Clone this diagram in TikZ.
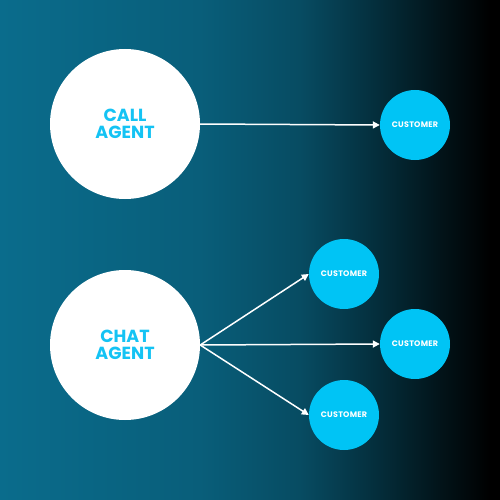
\documentclass[tikz,border=0pt]{standalone}
\usepackage{fontspec}
\setmainfont{Poppins}[UprightFont=* Bold, BoldFont=* Bold]
\usetikzlibrary{arrows.meta}
\definecolor{bgteal}{HTML}{0A6C8C}
\definecolor{agenttxt}{HTML}{14C3F4}
\definecolor{custfill}{HTML}{00C4F5}
\pgfdeclarehorizontalshading{bgshade}{100bp}{color(0bp)=(bgteal); color(25bp)=(bgteal); color(45bp)=(bgteal!87!black); color(55bp)=(bgteal!70!black); color(62bp)=(bgteal!45!black); color(69bp)=(bgteal!18!black); color(74bp)=(black); color(100bp)=(black)}
\tikzset{
  agent/.style={circle, fill=white, minimum size=150pt, inner sep=0pt, text=agenttxt,
    font=\fontsize{17.5}{17}\selectfont, align=center},
  cust/.style={circle, fill=custfill, minimum size=70pt, inner sep=0pt, text=white,
    font=\fontsize{8}{8}\selectfont\addfontfeature{LetterSpace=3}},
  conn/.style={draw=white, line width=1.5pt, -{Triangle[length=7pt, width=7pt]}}
}
\begin{document}
\begin{tikzpicture}[x=1pt, y=-1pt]
\shade[shading=bgshade] (0,0) rectangle (500,500);
\useasboundingbox (0,0) rectangle (500,500);
\node[agent] (call) at (125,124) {CALL\\AGENT};
\node[agent] (chat) at (125,345) {CHAT\\AGENT};
\node[cust] (c1) at (415,125) {CUSTOMER};
\node[cust] (c2) at (344,274) {CUSTOMER};
\node[cust] (c3) at (415,344) {CUSTOMER};
\node[cust] (c4) at (344,415) {CUSTOMER};
\draw[conn] (call.east) -- (c1.west);
\draw[conn] (chat.east) -- (c2.west);
\draw[conn] (chat.east) -- (c3.west);
\draw[conn] (chat.east) -- (c4.west);
\end{tikzpicture}
\end{document}
